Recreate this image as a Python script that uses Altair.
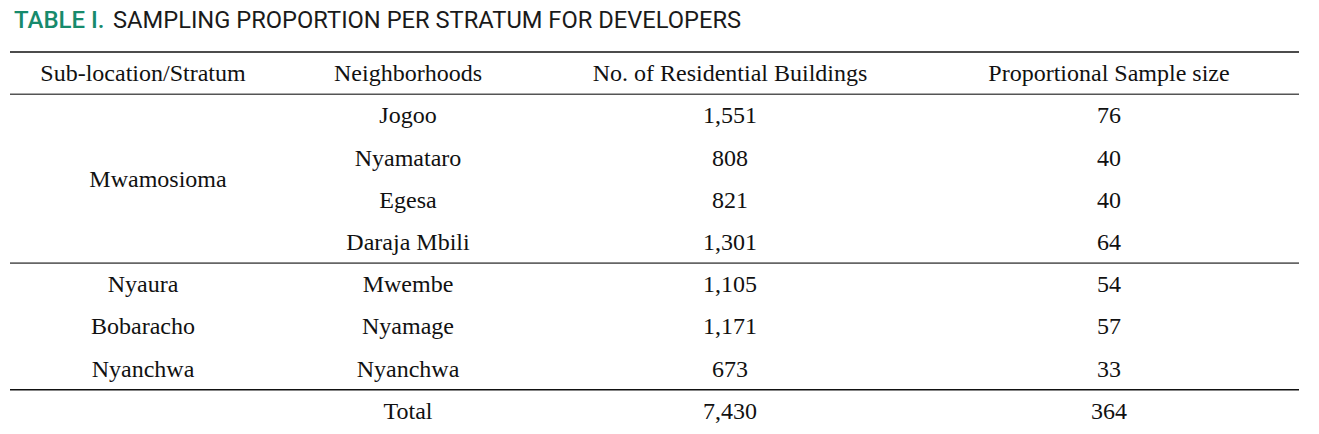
import altair as alt
import pandas as pd

# ---- data ----
title_label = "TABLE I."
title_text = "SAMPLING PROPORTION PER STRATUM FOR DEVELOPERS"
headers = ["Sub-location/Stratum", "Neighborhoods", "No. of Residential Buildings", "Proportional Sample size"]
strata = ["Mwamosioma", "Nyaura", "Bobaracho", "Nyanchwa"]
neighborhoods = ["Jogoo", "Nyamataro", "Egesa", "Daraja Mbili", "Mwembe", "Nyamage", "Nyanchwa"]
buildings = [1551, 808, 821, 1301, 1105, 1171, 673]
samples = [76, 40, 40, 64, 54, 57, 33]
total_label = "Total"
total_buildings = 7430
total_samples = 364

cols = ["c1", "c2", "c3", "c4"]

# ---- build table cells ----
cells = []
for c, h in zip(cols, headers):
    cells.append({"col": c, "row": 0.5, "text": h})
# Mwamosioma spans the first four neighborhood rows
cells.append({"col": "c1s", "row": 3.0, "text": strata[0]})
for i, s in enumerate(strata[1:]):
    cells.append({"col": "c1", "row": 5.5 + i, "text": s})
for i, (n, b, s) in enumerate(zip(neighborhoods, buildings, samples)):
    r = 1.5 + i
    cells.append({"col": "c2", "row": r, "text": n})
    cells.append({"col": "c3", "row": r, "text": f"{b:,}"})
    cells.append({"col": "c4", "row": r, "text": f"{s:,}"})
r = 1.5 + len(neighborhoods)
cells.append({"col": "c2", "row": r, "text": total_label})
cells.append({"col": "c3", "row": r, "text": f"{total_buildings:,}"})
cells.append({"col": "c4", "row": r, "text": f"{total_samples:,}"})
df = pd.DataFrame(cells)

rules = pd.DataFrame({
    "row": [0, 1, 5, 8, 9],
    "color": ["#111111", "#555555", "#666666", "#111111", "#111111"],
})

# ---- layout ----
TOP = 10
W, H = 1303, 418 - TOP
col_x = {"c1": 135, "c1s": 150, "c2": 400, "c3": 722, "c4": 1101}
ys = alt.Scale(domain=[0, 9], range=[44 - TOP, 424 - TOP])
FONT = "Liberation Serif"
FS = 24

layers = []
lines = alt.Chart(rules).mark_rule(strokeWidth=1.6).encode(
    x=alt.value(2),
    x2=alt.value(1291),
    y=alt.Y("row:Q", scale=ys, axis=None),
    color=alt.Color("color:N", scale=None),
)
layers.append(lines)

for c, xpos in col_x.items():
    layers.append(
        alt.Chart(df).transform_filter(alt.datum.col == c).mark_text(
            font=FONT, fontSize=FS, color="#111111", baseline="middle", align="center", dy=1
        ).encode(
            x=alt.value(xpos),
            y=alt.Y("row:Q", scale=ys, axis=None),
            text="text:N",
        )
    )

title_df = pd.DataFrame({"a": [title_label], "b": [title_text]})
TFONT = "Roboto"
layers.append(alt.Chart(title_df).mark_text(
    font=TFONT, fontSize=24, fontWeight=500, color="#178a6c",
    align="left", baseline="middle"
).encode(x=alt.value(6), y=alt.value(13 - TOP), text="a:N"))
layers.append(alt.Chart(title_df).mark_text(
    font=TFONT, fontSize=23.7, color="#1a1a1a",
    align="left", baseline="middle"
).encode(x=alt.value(105), y=alt.value(13 - TOP), text="b:N"))

chart = alt.layer(*layers).properties(
    width=W, height=H, autosize=alt.AutoSizeParams(type="none"),
    padding={"left": 0, "top": TOP, "right": 0, "bottom": 0}
).configure_view(stroke=None)

chart.save("out.html", embed_options={"renderer": "svg", "actions": False})
